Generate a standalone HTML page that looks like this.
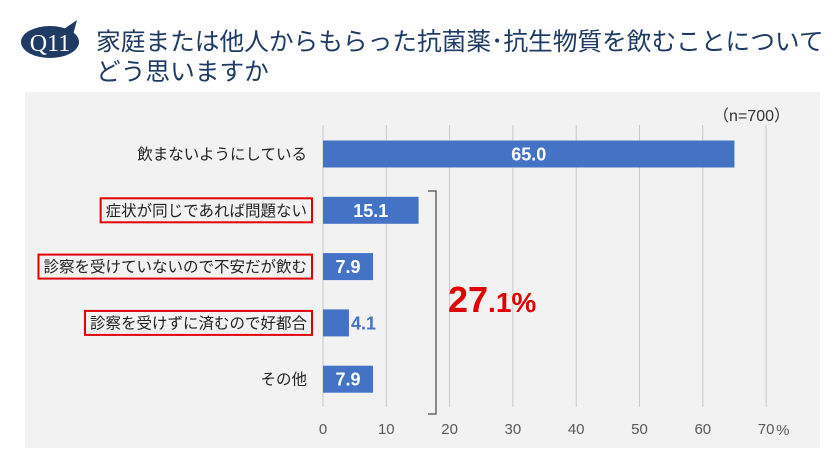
<!DOCTYPE html>
<html><head><meta charset="utf-8"><style>
body{margin:0;width:840px;height:463px;background:#fff;overflow:hidden;font-family:"Liberation Sans","Noto Sans CJK JP",sans-serif;}
</style></head><body>
<svg width="840" height="463" xmlns="http://www.w3.org/2000/svg" style="font-family:'Liberation Sans','Noto Sans CJK JP',sans-serif">
<g>
<ellipse cx="50" cy="42" rx="29" ry="16" fill="#1f3a63"/>
<path d="M64,29 L77,20 L73,35 Z" fill="#1f3a63"/>
<text x="50" y="51" font-size="24" fill="#fff" text-anchor="middle" font-family="Liberation Serif,serif">Q11</text>
</g>
<text x="96" y="50" font-size="24.7" fill="#1f3a63">家庭または他人からもらった抗菌薬･抗生物質を飲むことについて</text>
<text x="96" y="80" font-size="24.7" fill="#1f3a63">どう思いますか</text>
<rect x="25" y="92" width="795" height="356" fill="#f2f2f2"/>
<text x="790" y="121" font-size="16" fill="#333" text-anchor="end">（n=700）</text>
<g id="grid"></g><g id="bars"></g>
<path d="M428,191 H436 V414 H428" fill="none" stroke="#666" stroke-width="1.5"/>
<text x="448" y="312" fill="#e00000" font-weight="bold"><tspan font-size="36">27</tspan><tspan font-size="28">.1%</tspan></text>
</svg>
<script>
const categories=["飲まないようにしている","症状が同じであれば問題ない","診察を受けていないので不安だが飲む","診察を受けずに済むので好都合","その他"];
const values=[65.0,15.1,7.9,4.1,7.9];
const boxed=[false,true,true,true,false];
const ticks=[0,10,20,30,40,50,60,70];
const NS="http://www.w3.org/2000/svg";
const x=v=>323+v*6.33;
const y=i=>154+i*56.3;
const g=document.getElementById('grid'),b=document.getElementById('bars');
function el(t,a,p){const e=document.createElementNS(NS,t);for(const k in a)e.setAttribute(k,a[k]);p.appendChild(e);return e;}
ticks.forEach(t=>{
const l=el('line',{x1:x(t),x2:x(t),y1:125,y2:407,stroke:'#c8c8c8','stroke-width':1},g);


const tx=el('text',{x:x(t),y:434,'font-size':15,fill:'#595959','text-anchor':'middle'},g);
tx.textContent=t;


});
const pc=el('text',{x:x(70)+10,y:435,'font-size':15,fill:'#595959'},g);pc.textContent='%';


categories.forEach((c,i)=>{
const cy=y(i);
const r=el('rect',{x:x(0),y:cy-13.5,width:x(values[i])-x(0),height:27,fill:'#4472c4'},b);


const lab=el('text',{x:307,y:cy+5.5,'font-size':15.5,fill:'#222','text-anchor':'end'},b);
lab.textContent=c;


if(boxed[i]){const w=lab.getComputedTextLength();const bx=el('rect',{x:307-w-5,y:cy-12,width:w+10,height:24,fill:'none',stroke:'#e00000','stroke-width':2},b);

}
const wbar=x(values[i])-x(0);
const inside=wbar>35;
const v=el('text',{x:inside?x(0)+wbar/2:x(values[i])+2,y:cy+6.5,'font-size':18,'font-weight':'bold',fill:inside?'#fff':'#4472c4','text-anchor':inside?'middle':'start'},b);
v.textContent=values[i].toFixed(1);


});
</script>
</body></html>
